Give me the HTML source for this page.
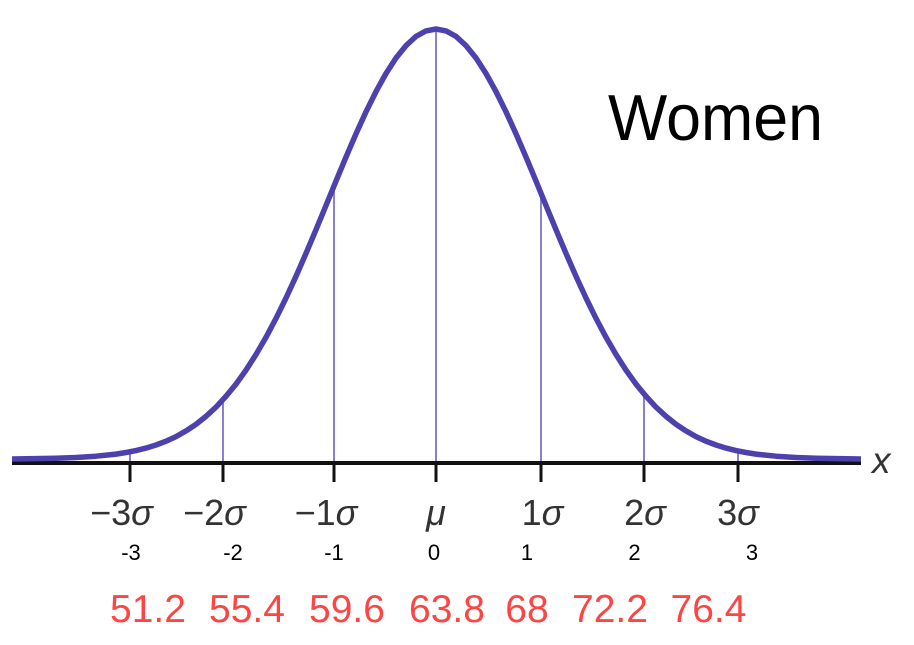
<!DOCTYPE html>
<html>
<head>
<meta charset="utf-8">
<style>
  html, body { margin: 0; padding: 0; background: #fff; }
  body { width: 914px; height: 645px; overflow: hidden; }
  svg { display: block; }
  text { font-family: "Liberation Sans", Arial, sans-serif; }
  .z { font-size: 22px; fill: #000; }
</style>
</head>
<body>
<svg width="914" height="645" viewBox="0 0 914 645" xmlns="http://www.w3.org/2000/svg">
  <rect width="914" height="645" fill="#fff"/>

  <!-- vertical guide lines -->
  <g stroke="#8a80d0" stroke-width="2">
    <line x1="130" y1="451" x2="130" y2="462"/>
    <line x1="223" y1="398" x2="223" y2="462"/>
    <line x1="334" y1="186" x2="334" y2="462"/>
    <line x1="436" y1="29" x2="436" y2="462"/>
    <line x1="541" y1="193" x2="541" y2="462"/>
    <line x1="644" y1="394" x2="644" y2="462"/>
    <line x1="738" y1="451" x2="738" y2="462"/>
  </g>

  <!-- axis -->
  <line x1="12" y1="463" x2="861" y2="463" stroke="#111" stroke-width="4"/>
  <g stroke="#111" stroke-width="3">
    <line x1="130" y1="463" x2="130" y2="482"/>
    <line x1="223" y1="463" x2="223" y2="482"/>
    <line x1="334" y1="463" x2="334" y2="482"/>
    <line x1="436" y1="463" x2="436" y2="482"/>
    <line x1="541" y1="463" x2="541" y2="482"/>
    <line x1="644" y1="463" x2="644" y2="482"/>
    <line x1="738" y1="463" x2="738" y2="482"/>
  </g>

  <!-- bell curve -->
  <polyline fill="none" stroke="#4d41ad" stroke-width="5.5" stroke-linejoin="round" stroke-linecap="butt"
    points="12,459 56,458.2 76,457.5 96,456.2 116,454.1 126,452.5 136,450.6 146,448.1 156,445.0 166,441.2 176,436.6 186,430.9 196,424.3 206,416.3 216,407.1 226,396.3 236,384.1 246,370.1 256,354.5 266,337.3 276,318.4 286,298.0 296,276.3 306,253.4 316,229.7 326,205.5 336,181.1 346,157.1 356,133.8 366,111.8 376,91.6 386,73.5 396,58.0 406,45.6 416,36.4 426,30.9 436,29 446,30.9 456,36.4 466,45.6 476,58.0 486,73.5 496,91.6 506,111.8 516,133.8 526,157.1 536,181.1 546,205.5 556,229.7 566,253.4 576,276.3 586,298.0 596,318.4 606,337.3 616,354.5 626,370.1 636,384.1 646,396.3 656,407.1 666,416.3 676,424.3 686,430.9 696,436.6 706,441.2 716,445.0 726,448.1 736,450.6 746,452.5 756,454.1 776,456.2 796,457.5 816,458.2 861,459"/>

  <!-- x axis label -->
  <text x="872" y="473" font-size="37" font-style="italic" fill="#333">x</text>

  <!-- sigma labels -->
  <g font-size="36" fill="#333" text-anchor="middle">
    <text x="121.5" y="525">−3<tspan font-style="italic">σ</tspan></text>
    <text x="214.5" y="525">−2<tspan font-style="italic">σ</tspan></text>
    <text x="326" y="525">−1<tspan font-style="italic">σ</tspan></text>
    <text x="436" y="525" font-style="italic">μ</text>
    <text x="542.5" y="525">1<tspan font-style="italic">σ</tspan></text>
    <text x="645" y="525">2<tspan font-style="italic">σ</tspan></text>
    <text x="738" y="525">3<tspan font-style="italic">σ</tspan></text>
  </g>

  <!-- z values -->
  <text class="z" x="131" y="560" text-anchor="middle" style="font-size:22px">-3</text>
  <text class="z" x="233" y="560" text-anchor="middle" style="font-size:22px">-2</text>
  <text class="z" x="334" y="560" text-anchor="middle" style="font-size:22px">-1</text>
  <text class="z" x="434" y="560" text-anchor="middle" style="font-size:22px">0</text>
  <text class="z" x="527" y="560" text-anchor="middle" style="font-size:22px">1</text>
  <text class="z" x="634.5" y="560" text-anchor="middle" style="font-size:22px">2</text>
  <text class="z" x="752" y="560" text-anchor="middle" style="font-size:22px">3</text>

  <!-- red values -->
  <g font-size="39" fill="#ff4444" text-anchor="middle">
    <text x="148" y="622">51.2</text>
    <text x="247" y="622">55.4</text>
    <text x="347" y="622">59.6</text>
    <text x="447" y="622">63.8</text>
    <text x="527" y="622">68</text>
    <text x="610" y="622">72.2</text>
    <text x="708.5" y="622">76.4</text>
  </g>

  <!-- title -->
  <text x="608" y="140" font-size="65" fill="#000" textLength="215" lengthAdjust="spacingAndGlyphs">Women</text>
</svg>
</body>
</html>
